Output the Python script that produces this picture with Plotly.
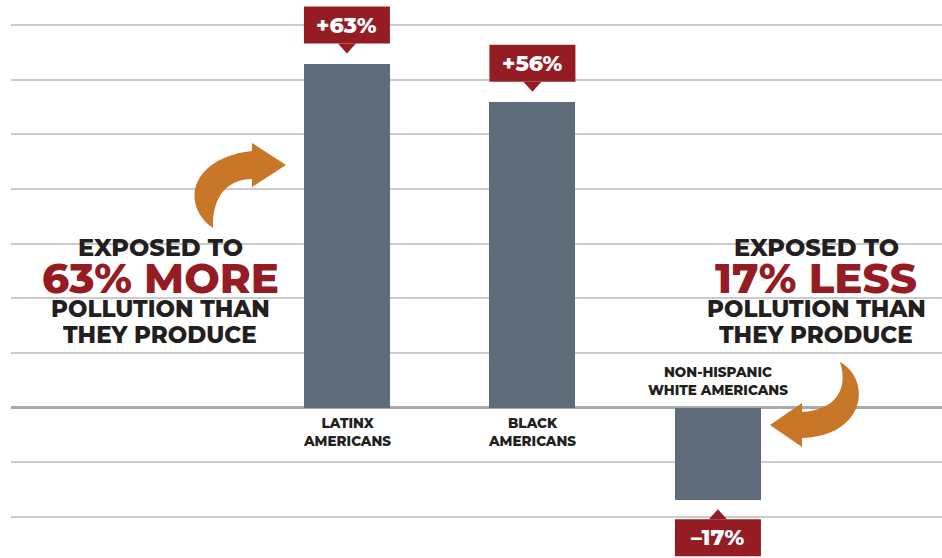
import plotly.graph_objects as go

# ---- data ----
categories = ["LATINX<br>AMERICANS", "BLACK<br>AMERICANS", "NON-HISPANIC<br>WHITE AMERICANS"]
values = [63, 56, -17]
tick_step = 10

# ---- style ----
W, H = 942, 558
ML = 11
BAR = "#5e6b79"
RED = "#951c23"
DARK = "#231f20"
ORANGE = "#c87628"
FONT = "Montserrat, Inter, 'Open Sans', sans-serif"

ymax, ymin = 74.63, -27.56
xmin, xmax = -1.811, 3.208
k = H / (ymax - ymin)            # px per unit (y)
kx = (W - ML) / (xmax - xmin)    # px per unit (x)
bw = 0.4636

xs = list(range(len(categories)))

fig = go.Figure()
fig.add_trace(go.Bar(x=xs, y=values, width=bw, marker=dict(color=BAR, line=dict(width=0)),
                     hoverinfo="skip"))

shapes = []
annotations = []

def fmt(v):
    return ("+%d%%" % v) if v >= 0 else ("\u2013%d%%" % abs(v))

def px2paper(px, py):
    return (px - ML) / (W - ML), 1 - py / H

# white gaps in gridlines behind the big callout texts
for x0, x1, yy in ((69, 251, 243), (36, 295, 297), (727, 907, 243), (700, 932, 297)):
    a0, b0 = px2paper(x0, yy - 3)
    a1, b1 = px2paper(x1, yy + 3)
    shapes.append(dict(type="rect", xref="paper", yref="paper", x0=a0, x1=a1, y0=b1, y1=b0,
                       fillcolor="white", line=dict(width=0), layer="below"))

# value callout boxes
for x, v in zip(xs, values):
    s = 1 if v >= 0 else -1
    gap = 20 / k if v >= 0 else 19 / k
    tip = 10 / k if v >= 0 else 9 / k
    bh = 37 / k
    base = v + s * gap
    far = base + s * bh
    shapes.append(dict(type="rect", xref="x", yref="y", x0=x - bw / 2, x1=x + bw / 2,
                       y0=min(base, far), y1=max(base, far),
                       fillcolor=RED, line=dict(width=0), layer="above"))
    hw = 9 / kx
    path = "M %f,%f L %f,%f L %f,%f Z" % (x - hw, base, x + hw, base, x, v + s * tip)
    shapes.append(dict(type="path", xref="x", yref="y", path=path,
                       fillcolor=RED, line=dict(width=0), layer="above"))
    annotations.append(dict(x=x, y=(base + far) / 2, xref="x", yref="y", text=fmt(v),
                            showarrow=False, font=dict(family=FONT, size=22, color="white", weight=800)))

# category labels
for x, v, c in zip(xs, values, categories):
    annotations.append(dict(x=x, y=0, xref="x", yref="y", text=c, showarrow=False,
                            yanchor="top" if v >= 0 else "bottom",
                            yshift=-5 if v >= 0 else 8,
                            font=dict(family=FONT, size=13.5, color=DARK, weight=800)))

# big callout texts
left_lines = [("EXPOSED TO", DARK, 24, 247), ("63% MORE", RED, 42, 277.5),
              ("POLLUTION THAN", DARK, 23, 308.5), ("THEY PRODUCE", DARK, 23, 335)]
right_lines = [("EXPOSED TO", DARK, 24, 247), ("17% LESS", RED, 42, 277.5),
               ("POLLUTION THAN", DARK, 23, 308.5), ("THEY PRODUCE", DARK, 23, 335)]
for cx, lines in ((160, left_lines), (816, right_lines)):
    for txt, col, sz, cy in lines:
        px_, py_ = px2paper(cx, cy)
        annotations.append(dict(x=px_, y=py_, xref="paper", yref="paper", text=txt, showarrow=False,
                                xanchor="center", yanchor="middle", valign="middle",
                                height=34 if sz > 30 else 22, borderpad=0,
                                font=dict(family=FONT, size=sz, color=col, weight=800)))

# curved arrows (decorations, pixel-defined)
def pathpx(cmds):
    out = []
    for c in cmds:
        if isinstance(c, str):
            out.append(c)
        else:
            a, b = px2paper(*c)
            out.append("%f,%f" % (a, b))
    return " ".join(out)

left_arrow = pathpx(["M", (213, 228), "C", (180, 205), (190, 158), (252, 151), "L", (252, 143),
                     "L", (286, 165), "L", (252, 187), "L", (252, 179), "C", (228, 179), (212, 196), (213, 228), "Z"])
right_arrow = pathpx(["M", (840, 362), "C", (872, 380), (866, 436), (802, 438), "L", (802, 447),
                      "L", (770, 425), "L", (802, 403), "L", (802, 412), "C", (835, 410), (849, 390), (840, 362), "Z"])
for p in (left_arrow, right_arrow):
    shapes.append(dict(type="path", xref="paper", yref="paper", path=p,
                       fillcolor=ORANGE, line=dict(width=0), layer="above"))

fig.update_layout(
    width=W, height=H, margin=dict(l=ML, r=0, t=0, b=0),
    plot_bgcolor="white", paper_bgcolor="white", showlegend=False,
    xaxis=dict(range=[xmin, xmax], showgrid=False, showticklabels=False, zeroline=False,
               showline=False, ticks=""),
    yaxis=dict(range=[ymin, ymax], dtick=tick_step, tick0=0, showticklabels=False,
               gridcolor="#cbcbcb", gridwidth=1.5, zeroline=True, zerolinecolor="#a8a8a8",
               zerolinewidth=2.5, showline=False, ticks=""),
    shapes=shapes, annotations=annotations, bargap=0,
)
fig.write_html("out.html")
